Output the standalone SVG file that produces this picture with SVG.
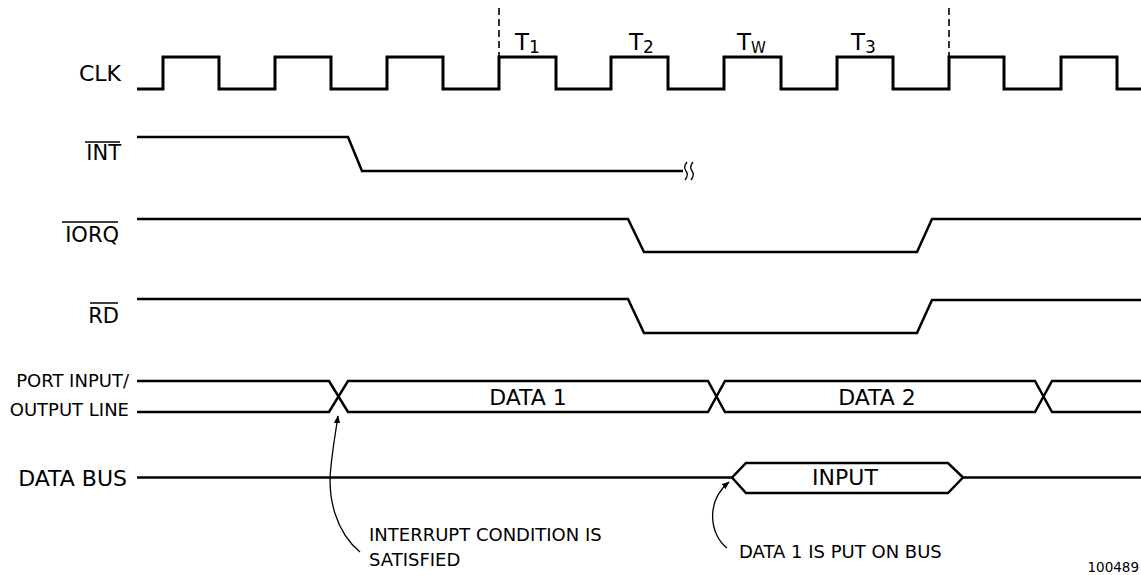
<svg xmlns="http://www.w3.org/2000/svg" width="1141" height="575" viewBox="0 0 1141 575">
<style>
text{font-family:"DejaVu Sans","Liberation Sans",sans-serif;fill:#000}
.sig{font-size:21px;text-anchor:end}
.big{font-size:22px}
.port{font-size:18px;text-anchor:end}
.wave{fill:none;stroke:#000;stroke-width:3;stroke-linejoin:miter}
.thin{fill:none;stroke:#000;stroke-width:2.5}
.ol{stroke:#000;stroke-width:1.5}
.dash{stroke:#000;stroke-width:1.6;stroke-dasharray:7,4}
.arr{fill:none;stroke:#000;stroke-width:1.3}
.note{font-size:18px}
.tl{font-size:23px}
.sub{font-size:17px}
.subw{font-size:15px}
</style>
<defs>
<marker id="ah" viewBox="0 0 10 10" refX="9" refY="5" markerWidth="8" markerHeight="8" markerUnits="userSpaceOnUse" orient="auto">
<path d="M0,1 L10,5 L0,9 Z" fill="#000"/>
</marker>
</defs>
<rect width="1141" height="575" fill="#fff"/>

<g id="clk">
<text class="sig big" x="121" y="81">CLK</text>
<path class="wave" d="M137,89 H163 V57 H219 V89 H275 V57 H331 V89 H387 V57 H443 V89 H499 V57 H556 V89 H611 V57 H668 V89 H724 V57 H781 V89 H837 V57 H893 V89 H949 V57 H1004 V89 H1061 V57 H1117 V89 H1141"/>
<line class="dash" x1="499" y1="8" x2="499" y2="57"/>
<line class="dash" x1="949" y1="8" x2="949" y2="57"/>
<text class="tl" x="515" y="50">T<tspan class="sub" dy="3">1</tspan></text>
<text class="tl" x="629" y="50">T<tspan class="sub" dy="3">2</tspan></text>
<text class="tl" x="737" y="50">T<tspan class="subw" dy="3">W</tspan></text>
<text class="tl" x="851" y="50">T<tspan class="sub" dy="3">3</tspan></text>
</g>

<g id="int">
<text class="sig" x="121" y="160">INT</text>
<line class="ol" x1="85" y1="142" x2="120" y2="142"/>
<path class="thin" d="M137,137 H348 L362,171 H683"/>
<path class="arr" d="M687,162 Q683,167 686,171 Q689,175 685,180 M693,162 Q689,167 692,171 Q695,175 691,180"/>
</g>

<g id="iorq">
<text class="sig" x="119" y="242">IORQ</text>
<line class="ol" x1="62" y1="222" x2="118" y2="222"/>
<path class="thin" d="M137,219 H628 L644,252 H917 L932,219 H1141"/>
</g>

<g id="rd">
<text class="sig" x="119" y="323">RD</text>
<line class="ol" x1="90" y1="303" x2="118" y2="303"/>
<path class="thin" d="M137,299 H628 L644,333 H917 L932,300 H1141"/>
</g>

<g id="port">
<text class="port" x="129" y="387">PORT INPUT/</text>
<text class="port" x="129" y="416">OUTPUT LINE</text>
<path class="thin" d="M137,381 H329 L348,412 H708 L725,381 H1035 L1052,412 H1141"/>
<path class="thin" d="M137,412 H329 L348,381 H708 L725,412 H1035 L1052,381 H1141"/>
<text class="big" x="528" y="405" text-anchor="middle">DATA 1</text>
<text class="big" x="877" y="405" text-anchor="middle">DATA 2</text>
</g>

<g id="databus">
<text class="sig big" x="127" y="486">DATA BUS</text>
<path class="thin" d="M137,477.5 H732 L746,463 H948 L963,477.5 H1141"/>
<path class="thin" d="M732,477.5 L746,493 H948 L963,477.5"/>
<text class="big" x="845" y="485" text-anchor="middle">INPUT</text>
</g>

<g id="notes">
<text class="note" x="369" y="541">INTERRUPT CONDITION IS</text>
<text class="note" x="369" y="566">SATISFIED</text>
<text class="note" x="739" y="558">DATA 1 IS PUT ON BUS</text>
<text x="1139" y="572" font-size="13.5" text-anchor="end">100489</text>
</g>

<g id="connectors">
<path class="arr" marker-end="url(#ah)" d="M360,552 C336,532 327,498 331,466 C333,446 336,430 338,416"/>
<path class="arr" marker-end="url(#ah)" d="M727,548 C710,535 705,502 729,482"/>
</g>
</svg>
